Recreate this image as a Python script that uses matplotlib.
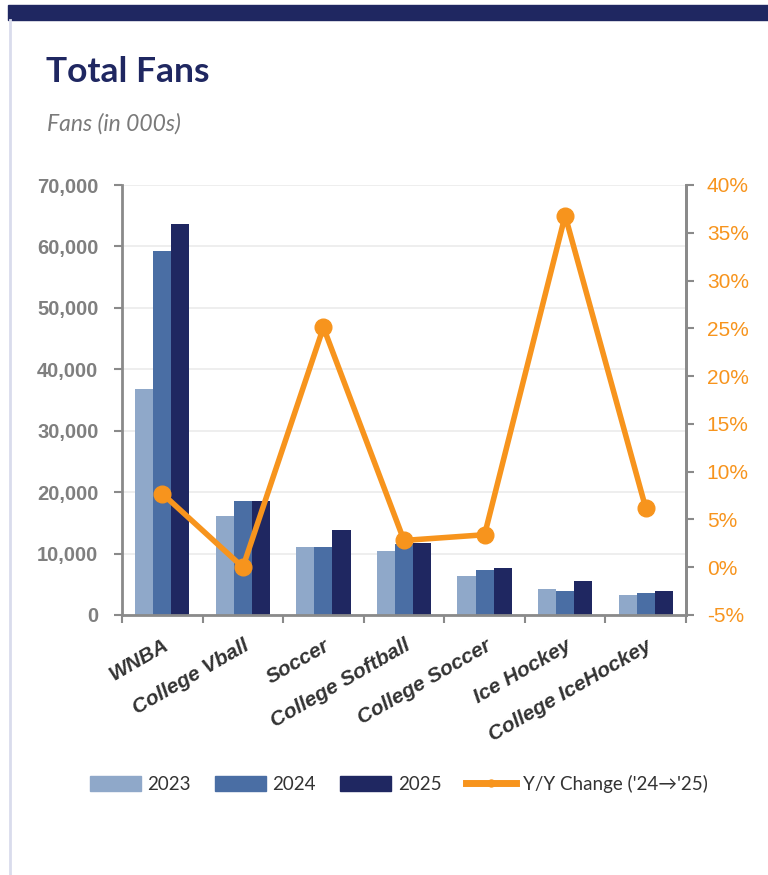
''' Total fans chart: grouped bars per sport with Y/Y change line.
'''
import matplotlib
matplotlib.use('Agg')
import matplotlib.pyplot as plt
import matplotlib.ticker as mticker
from matplotlib.lines import Line2D
from matplotlib.patches import Patch, Rectangle
import numpy as np

# data (fans in 000s)
categories = ['WNBA', 'College Vball', 'Soccer', 'College Softball',
              'College Soccer', 'Ice Hockey', 'College IceHockey']
fans_2023 = [36800, 16100, 11100, 10500, 6350, 4200, 3250]
fans_2024 = [59300, 18600, 11100, 11500, 7300, 3900, 3600]
fans_2025 = [63700, 18600, 13800, 11800, 7650, 5500, 3900]
yoy_change = [7.7, 0.0, 25.1, 2.8, 3.4, 36.8, 6.2]

years = ['2023', '2024', '2025']
bar_colors = ['#8FA8C9', '#4A6EA4', '#1F2761']
orange = '#F7941D'
navy = '#1F2761'
axis_gray = '#8A8A8A'


def main():
    fig = plt.figure(figsize=(7.68, 8.75), dpi=100)

    # header band and left border
    fig.patches.append(Rectangle((8 / 768, 1 - 20 / 875), 1, 15 / 875,
                                 transform=fig.transFigure, color=navy, zorder=0))
    fig.add_artist(Line2D([10 / 768, 10 / 768], [0, 1 - 20 / 875],
                          transform=fig.transFigure, color='#D9DCEC', lw=2))

    fig.text(46 / 768, 1 - 72 / 875, 'Total Fans', family='Lato', weight='bold',
             fontsize=25.5, color=navy, va='center')
    fig.text(47 / 768, 1 - 124 / 875, 'Fans (in 000s)', family='Lato', style='italic',
             fontsize=16.5, color='#7A7A7A', va='center')

    ax = fig.add_axes([122 / 768, 1 - 615 / 875, 564 / 768, 430 / 875])
    x = np.arange(len(categories))
    w = 0.225
    series = [fans_2023, fans_2024, fans_2025]
    for i, vals in enumerate(series):
        ax.bar(x + (i - 1) * w, vals, width=w, color=bar_colors[i], zorder=2)

    ax.set_xlim(-0.5, len(categories) - 0.5)
    ax.set_ylim(0, 70000)
    ax.set_yticks(np.arange(0, 70001, 10000))
    ax.yaxis.set_major_formatter(mticker.FuncFormatter(lambda v, p: '{:,.0f}'.format(v)))
    ax.grid(axis='y', color='#EBEBEB', lw=1.2, zorder=0)
    ax.set_axisbelow(True)

    ax.set_xticks(np.arange(-0.5, len(categories), 1))
    ax.set_xticklabels([])
    ax.set_xticks(x, minor=True)
    ax.set_xticklabels(categories, minor=True, rotation=30, ha='right',
                       rotation_mode='anchor', family='Liberation Sans',
                       weight='bold', style='italic', fontsize=15, color='#333333')
    ax.tick_params(axis='x', which='minor', length=0, pad=15)
    ax.tick_params(axis='x', which='major', length=6, width=1.5, color=axis_gray)
    ax.tick_params(axis='y', length=6, width=1.5, color=axis_gray, pad=11,
                   labelsize=14.5, labelcolor='#7F7F7F')
    for lab in ax.get_yticklabels():
        lab.set_fontweight('bold')
        lab.set_family('Liberation Sans')

    for side in ['top']:
        ax.spines[side].set_visible(False)
    for side in ['left', 'bottom', 'right']:
        ax.spines[side].set_color(axis_gray)
        ax.spines[side].set_linewidth(2)

    ax2 = ax.twinx()
    ax2.plot(x, yoy_change, color=orange, lw=4, marker='o', markersize=12, zorder=5)
    ax2.set_ylim(-5, 40)
    ax2.set_yticks(np.arange(-5, 41, 5))
    ax2.yaxis.set_major_formatter(mticker.FuncFormatter(lambda v, p: '{:.0f}%'.format(v)))
    ax2.tick_params(axis='y', length=6, width=1.5, color=axis_gray, pad=9,
                    labelsize=15, labelcolor=orange)
    for lab in ax2.get_yticklabels():
        lab.set_family('Liberation Sans')
    ax2.spines['top'].set_visible(False)
    ax2.spines['right'].set_color(axis_gray)
    ax2.spines['right'].set_linewidth(2)
    ax2.spines['left'].set_visible(False)
    ax2.spines['bottom'].set_visible(False)

    handles = [Patch(color=c) for c in bar_colors]
    handles.append(Line2D([], [], color=orange, lw=5, marker='o', markersize=5))
    labels = years + ["Y/Y Change ('24\u2192'25)"]
    fig.legend(handles, labels, loc='center', bbox_to_anchor=(399 / 768, 1 - 784 / 875),
               ncol=4, frameon=False, prop={'family': ['Lato', 'DejaVu Sans'], 'size': 13.5},
               labelcolor='#333333', handlelength=2.7, handleheight=0.8,
               columnspacing=1.3, handletextpad=0.35)

    fig.savefig('out.png', dpi=100)


if __name__ == '__main__':
    main()
